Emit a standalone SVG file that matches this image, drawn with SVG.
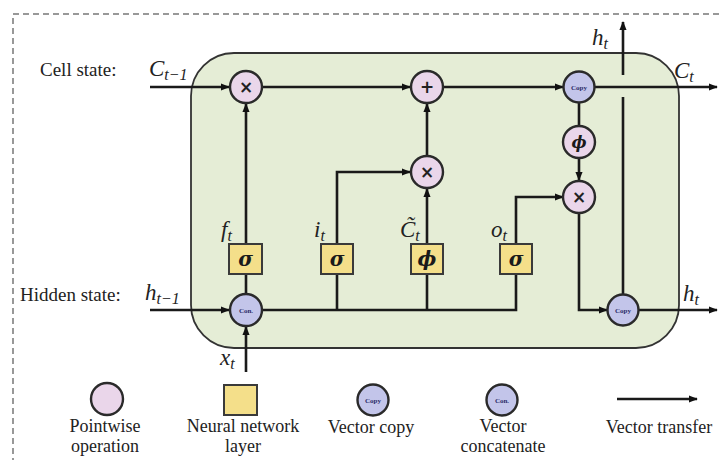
<svg xmlns="http://www.w3.org/2000/svg" width="719" height="460" viewBox="0 0 719 460">
<defs>
<marker id="ah" viewBox="0 0 10 10" refX="9" refY="5" markerWidth="9" markerHeight="9" markerUnits="userSpaceOnUse" orient="auto">
<path d="M0,1 L10,5 L0,9 Z" fill="#111"/>
</marker>
<style>
.ln{fill:none;stroke:#1a1a1a;stroke-width:2.6}
.pw{fill:#ead6ea;stroke:#2a2a2a;stroke-width:2.4}
.vc{fill:#c3c5ea;stroke:#2a2a2a;stroke-width:2.4}
.nn{fill:#f4df8a;stroke:#3a3a3a;stroke-width:2}
.op{font-family:"DejaVu Sans",sans-serif;font-weight:bold;font-size:17px;fill:#222;text-anchor:middle}
.gk{font-family:"DejaVu Serif","Liberation Serif",serif;font-weight:bold;font-style:italic;font-size:20px;fill:#1a1a1a;text-anchor:middle}
.tiny{font-family:"Liberation Serif",serif;font-weight:bold;font-size:7px;fill:#2a2a66;text-anchor:middle}
.lb{font-family:"Liberation Serif",serif;font-size:19px;fill:#222}
.lc{font-family:"Liberation Serif",serif;font-size:18px;fill:#222;text-anchor:middle}
.m{font-family:"Liberation Serif",serif;font-style:italic;font-size:23px;fill:#222}
.s{font-size:16px}
</style>
</defs>
<rect x="13" y="14" width="760" height="500" fill="none" stroke="#777" stroke-width="1.5" stroke-dasharray="6,4"/>
<rect id="cell" x="191" y="53" width="488" height="295" rx="43" ry="43" fill="#e5edd6" stroke="#333" stroke-width="1.8"/>
<g id="connectors">
<path class="ln" d="M150,87 H229" marker-end="url(#ah)"/>
<path class="ln" d="M262,87 H410" marker-end="url(#ah)"/>
<path class="ln" d="M443,87 H563" marker-end="url(#ah)"/>
<path class="ln" d="M595,87 H717" marker-end="url(#ah)"/>
<path class="ln" d="M579,102 V126"/>
<path class="ln" d="M579,158 V180" marker-end="url(#ah)"/>
<path class="ln" d="M623,75 V22" marker-end="url(#ah)"/>
<path class="ln" d="M623,97 V295"/>
<path class="ln" d="M579,213 V310 H607" marker-end="url(#ah)"/>
<path class="ln" d="M638,310 H717" marker-end="url(#ah)"/>
<path class="ln" d="M150,310 H229" marker-end="url(#ah)"/>
<path class="ln" d="M246,372 V327" marker-end="url(#ah)"/>
<path class="ln" d="M262,310 H516 V275"/>
<path class="ln" d="M246,294 V274"/>
<path class="ln" d="M246,244 V104" marker-end="url(#ah)"/>
<path class="ln" d="M337,310 V275"/>
<path class="ln" d="M337,243 V172 H410" marker-end="url(#ah)"/>
<path class="ln" d="M427,310 V275"/>
<path class="ln" d="M427,243 V189" marker-end="url(#ah)"/>
<path class="ln" d="M427,156 V104" marker-end="url(#ah)"/>
<path class="ln" d="M516,243 V197 H563" marker-end="url(#ah)"/>
</g>
<g id="mul_forget"><circle class="pw" cx="246" cy="87" r="16"/><text class="op" x="246" y="93">×</text></g>
<g id="add_cell"><circle class="pw" cx="427" cy="87" r="16"/><text class="op" x="427" y="93">+</text></g>
<g id="copy_cell"><circle class="vc" cx="579" cy="87" r="15.5"/><text class="tiny" x="579" y="89.5">Copy</text></g>
<g id="tanh_cell"><circle class="pw" cx="579" cy="142" r="16"/><text class="gk" x="579" y="148" style="font-size:16px">ϕ</text></g>
<g id="mul_output"><circle class="pw" cx="579" cy="197" r="16"/><text class="op" x="579" y="203">×</text></g>
<g id="mul_input"><circle class="pw" cx="427" cy="172" r="16"/><text class="op" x="427" y="178">×</text></g>
<g id="copy_hidden"><circle class="vc" cx="623" cy="310" r="15.5"/><text class="tiny" x="623" y="312.5">Copy</text></g>
<g id="concat"><circle class="vc" cx="246" cy="310" r="16"/><text class="tiny" x="246" y="312.5">Con.</text></g>
<g id="gate_f"><rect class="nn" x="229" y="244" width="33" height="30"/><text class="gk" x="245.5" y="266">σ</text><text class="m" x="221" y="237">f<tspan class="s" dy="4">t</tspan></text></g>
<g id="gate_i"><rect class="nn" x="321" y="244" width="32" height="30"/><text class="gk" x="337" y="266">σ</text><text class="m" x="314" y="237">i<tspan class="s" dy="4">t</tspan></text></g>
<g id="gate_c"><rect class="nn" x="411" y="244" width="32" height="30"/><text class="gk" x="427" y="266">ϕ</text><text class="m" x="400" y="237">C̃<tspan class="s" dy="4">t</tspan></text></g>
<g id="gate_o"><rect class="nn" x="500" y="244" width="32" height="30"/><text class="gk" x="516" y="266">σ</text><text class="m" x="491" y="237">o<tspan class="s" dy="4">t</tspan></text></g>
<g id="labels">
<text class="lb" x="40" y="76">Cell state:</text>
<text class="lb" x="20" y="301">Hidden state:</text>
<text class="m" x="149" y="76">C<tspan class="s" dy="4">t−1</tspan></text>
<text class="m" x="145" y="300">h<tspan class="s" dy="4">t−1</tspan></text>
<text class="m" x="674" y="78">C<tspan class="s" dy="4">t</tspan></text>
<text class="m" x="592" y="45">h<tspan class="s" dy="4">t</tspan></text>
<text class="m" x="683" y="301">h<tspan class="s" dy="4">t</tspan></text>
<text class="m" x="220" y="365">x<tspan class="s" dy="4">t</tspan></text>
</g>
<g id="legend_pointwise"><circle class="pw" cx="107" cy="399" r="16"/><text class="lc" x="105" y="432">Pointwise</text><text class="lc" x="105" y="452">operation</text></g>
<g id="legend_layer"><rect class="nn" x="224" y="385" width="33" height="30"/><text class="lc" x="243" y="432">Neural network</text><text class="lc" x="243" y="452">layer</text></g>
<g id="legend_copy"><circle class="vc" cx="373" cy="400" r="15.5"/><text class="tiny" x="373" y="402.5">Copy</text><text class="lc" x="371" y="433">Vector copy</text></g>
<g id="legend_concat"><circle class="vc" cx="502" cy="400" r="15.5"/><text class="tiny" x="502" y="402.5">Con.</text><text class="lc" x="503" y="432">Vector</text><text class="lc" x="503" y="452">concatenate</text></g>
<g id="legend_transfer"><path class="ln" d="M617,399 H697" marker-end="url(#ah)"/><text class="lc" x="659" y="433">Vector transfer</text></g>
</svg>
